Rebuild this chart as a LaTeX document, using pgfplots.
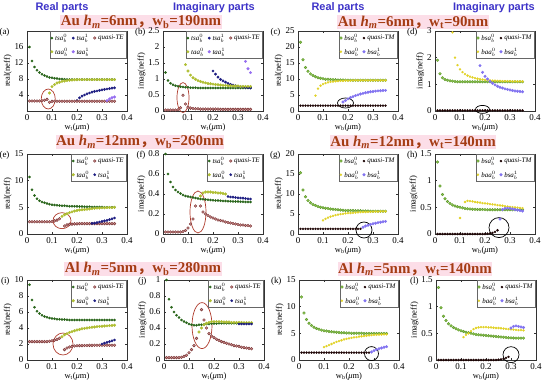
\documentclass[border=0pt]{standalone}
\usepackage{fontspec}
\setmainfont{Liberation Serif}
\setsansfont{Liberation Sans}
\newfontfamily\cjk{Noto Sans CJK SC}
\usepackage{pgfplots}
\pgfplotsset{compat=1.18}
\usepackage{pgfplotstable}

\definecolor{cS0}{RGB}{40,100,25}
\definecolor{cA0}{RGB}{175,190,50}
\definecolor{cS1}{RGB}{30,30,130}
\definecolor{cA1}{RGB}{150,110,240}
\definecolor{cTEd}{RGB}{120,50,50}
\definecolor{cTEf}{RGB}{200,140,140}
\definecolor{cB0d}{RGB}{90,150,40}
\definecolor{cB0f}{RGB}{135,190,75}
\definecolor{cBA0}{RGB}{225,210,40}
\definecolor{cTM}{RGB}{30,5,5}
\definecolor{cB1}{RGB}{130,115,240}
\definecolor{cHead}{RGB}{60,50,200}
\definecolor{cTitle}{RGB}{165,60,20}
\definecolor{cTitleBg}{RGB}{252,222,232}
\definecolor{cEll}{RGB}{175,60,45}

\pgfplotsset{
 panel/.style={scale only axis, width=100bp, height=80bp, anchor=north west,
  xmin=0, xmax=0.4, ymin=0, xtick={0,0.1,0.2,0.3,0.4},
  tick align=inside, major tick length=2bp, clip=false,
  axis line style={black!80}, every tick/.style={black!80},
  tick label style={font=\fontsize{9}{10}\selectfont},
  label style={font=\fontsize{8.5}{10}\selectfont},
  /pgf/number format/assume math mode=true,
  xlabel style={yshift=4bp}, ylabel style={yshift=-4bp},
  legend style={at={(0.995,0.995)}, anchor=north east, font=\fontsize{7}{8}\selectfont,
    draw=black!60, fill=white, inner sep=0.6pt, row sep=2pt, cells={anchor=west},
    /tikz/every even column/.append style={column sep=2pt}},
 },
 mS0/.style={only marks, mark=*, mark size=1.1bp, color=cS0},
 mA0/.style={only marks, mark=*, mark size=1.3bp, color=cA0},
 mS1/.style={only marks, mark=*, mark size=1.2bp, color=cS1},
 mA1/.style={only marks, mark=*, mark size=1.3bp, color=cA1},
 mTE/.style={only marks, mark=*, mark size=1.4bp, color=cTEd, mark options={draw=cTEd, fill=cTEf, line width=0.4bp}},
 mB0/.style={only marks, mark=*, mark size=1.4bp, color=cB0d, mark options={draw=cB0d, fill=cB0f, line width=0.3bp}},
 mBA0/.style={only marks, mark=*, mark size=1.0bp, color=cBA0},
 mTM/.style={only marks, mark=*, mark size=1.0bp, color=cTM},
 mB1/.style={only marks, mark=*, mark size=1.3bp, color=cB1},
}
\newcommand{\tsaZ}{\textit{tsa}$^{0}_{b}$}
\newcommand{\tsaO}{\textit{tsa}$^{1}_{b}$}
\newcommand{\taaZ}{\textit{taa}$^{0}_{b}$}
\newcommand{\taaO}{\textit{taa}$^{1}_{b}$}
\newcommand{\bsaZ}{\textit{bsa}$^{0}_{b}$}
\newcommand{\bsaO}{\textit{bsa}$^{1}_{b}$}
\newcommand{\baaZ}{\textit{baa}$^{0}_{b}$}
\newcommand{\xlt}{w\textsubscript{t}(\textit{μ}m)}
\newcommand{\xlb}{w\textsubscript{b}(\textit{μ}m)}

% (a)
\pgfplotstableread{
x s0 a0 s1 a1 q
0.01 16.0 nan nan nan 2.5
0.02 12.5 nan nan nan 2.5
0.03 11.0 nan nan nan 2.5
0.04 10.2 nan nan nan 2.5
0.05 9.6 nan nan nan 2.5
0.06 9.2 nan nan nan 2.55
0.07 8.9 nan nan nan 2.7
0.08 8.6 nan nan nan 2.9
0.09 8.4 4.5 nan nan 2.2
0.10 8.3 6.1 nan nan 2.4
0.11 8.2 6.6 nan nan 2.45
0.12 8.1 7.0 nan nan 2.45
0.13 8.0 7.2 nan nan 2.45
0.14 8.0 7.4 nan nan 2.45
0.15 7.95 7.5 nan nan 2.45
0.16 7.9 7.6 nan nan 2.45
0.17 7.9 7.7 nan nan 2.45
0.18 7.9 7.75 nan nan 2.45
0.19 7.9 7.8 nan nan 2.45
0.20 7.9 7.8 2.6 nan 2.45
0.21 7.9 7.85 3.3 nan 2.45
0.22 7.85 7.85 3.7 nan 2.45
0.23 7.85 7.85 4.0 nan 2.45
0.24 7.85 7.85 4.3 nan 2.45
0.25 7.85 7.85 4.5 nan 2.45
0.26 7.85 7.85 4.7 nan 2.45
0.27 7.85 7.85 4.9 nan 2.45
0.28 7.85 7.85 5.0 nan 2.45
0.29 7.85 7.85 5.15 nan 2.45
0.30 7.85 7.85 5.3 nan 2.45
0.31 7.85 7.85 5.4 nan 2.45
0.32 7.85 7.85 5.5 2.6 2.45
0.33 7.85 7.85 5.6 3.0 2.45
0.34 7.85 7.85 5.7 3.3 2.45
0.35 7.85 7.85 5.8 3.5 2.45
}\tA
% (b)
\pgfplotstableread{
x s0 a0 s1 a1 q
0.01 1.2 nan nan nan 0.03
0.02 0.95 nan nan nan 0.03
0.03 0.87 nan nan nan 0.03
0.04 0.82 nan nan nan 0.03
0.05 0.79 nan nan nan 0.03
0.06 0.77 nan nan nan 0.04
0.07 0.76 nan nan nan 0.1
0.08 0.75 nan nan nan 0.49
0.09 0.74 1.45 nan nan 0.22
0.10 0.74 1.25 nan nan 0.12
0.11 0.73 1.12 nan nan 0.09
0.12 0.73 1.04 nan nan 0.08
0.13 0.73 0.99 nan nan 0.07
0.14 0.72 0.95 nan nan 0.07
0.15 0.72 0.92 nan nan 0.06
0.16 0.72 0.90 nan nan 0.06
0.17 0.72 0.88 nan nan 0.06
0.18 0.72 0.86 nan nan 0.06
0.19 0.72 0.85 nan nan 0.06
0.20 0.72 0.84 1.25 nan 0.06
0.21 0.72 0.83 1.15 nan 0.06
0.22 0.72 0.82 1.06 nan 0.06
0.23 0.72 0.81 0.99 nan 0.05
0.24 0.72 0.80 0.94 nan 0.05
0.25 0.72 0.80 0.90 nan 0.05
0.26 0.72 0.79 0.86 nan 0.05
0.27 0.72 0.79 0.83 nan 0.05
0.28 0.72 0.78 0.81 nan 0.05
0.29 0.72 0.78 0.79 nan 0.05
0.30 0.72 0.78 0.77 nan 0.05
0.31 0.72 0.77 0.76 nan 0.05
0.32 0.72 0.77 0.75 nan 0.05
0.33 0.72 0.77 0.74 1.55 0.05
0.34 0.72 0.77 0.73 1.32 0.05
0.35 0.72 0.77 0.72 1.20 0.05
}\tB
% (c)
\pgfplotstableread{
x s0 a0 s1 q
0.01 21.5 nan nan 1.7
0.02 16.0 nan nan 1.7
0.03 13.6 nan nan 1.7
0.04 12.4 nan nan 1.7
0.05 11.6 nan nan 1.7
0.06 11.1 nan nan 1.7
0.07 10.7 4.8 nan 1.7
0.08 10.4 7.0 nan 1.7
0.09 10.2 7.9 nan 1.7
0.10 10.05 8.4 nan 1.7
0.11 9.95 8.7 nan 1.7
0.12 9.9 8.95 nan 1.7
0.13 9.85 9.1 nan 1.7
0.14 9.8 9.2 nan 1.7
0.15 9.75 9.3 nan 1.7
0.16 9.7 9.35 nan 1.7
0.17 9.7 9.4 nan 1.7
0.18 9.7 9.45 2.8 1.7
0.19 9.65 9.5 3.3 1.7
0.20 9.65 9.5 3.8 1.7
0.21 9.6 9.5 4.2 1.7
0.22 9.6 9.55 4.5 1.7
0.23 9.6 9.55 4.8 1.7
0.24 9.6 9.55 5.05 1.7
0.25 9.6 9.55 5.3 1.7
0.26 9.6 9.55 5.5 1.7
0.27 9.6 9.55 5.7 1.7
0.28 9.6 9.55 5.85 1.7
0.29 9.6 9.55 6.0 1.7
0.30 9.6 9.55 6.1 1.7
0.31 9.6 9.55 6.2 1.7
0.32 9.6 9.55 6.3 1.7
0.33 9.6 9.55 6.35 1.7
0.34 9.6 9.55 6.4 1.7
0.35 9.6 9.55 6.45 1.7
}\tC
% (d)
\pgfplotstableread{
x s0 a0 s1 q
0.01 1.9 nan nan 0.02
0.02 1.4 nan nan 0.02
0.03 1.25 nan nan 0.02
0.04 1.18 nan nan 0.02
0.05 1.15 nan nan 0.02
0.06 1.13 nan nan 0.02
0.07 1.12 2.95 nan 0.02
0.08 1.11 2.0 nan 0.02
0.09 1.1 1.72 nan 0.02
0.10 1.1 1.56 nan 0.02
0.11 1.1 1.46 nan 0.02
0.12 1.1 1.38 nan 0.02
0.13 1.1 1.33 nan 0.02
0.14 1.1 1.29 nan 0.02
0.15 1.1 1.26 nan 0.02
0.16 1.1 1.23 nan 0.02
0.17 1.1 1.21 nan 0.02
0.18 1.1 1.19 1.7 0.02
0.19 1.1 1.18 1.45 0.02
0.20 1.1 1.17 1.3 0.02
0.21 1.1 1.16 1.2 0.02
0.22 1.1 1.15 1.11 0.02
0.23 1.1 1.14 1.04 0.02
0.24 1.1 1.14 0.98 0.02
0.25 1.1 1.13 0.93 0.02
0.26 1.1 1.13 0.89 0.02
0.27 1.1 1.12 0.86 0.02
0.28 1.1 1.12 0.83 0.02
0.29 1.1 1.12 0.81 0.02
0.30 1.1 1.12 0.79 0.02
0.31 1.1 1.11 0.77 0.02
0.32 1.1 1.11 0.75 0.02
0.33 1.1 1.11 0.74 0.02
0.34 1.1 1.11 0.73 0.02
0.35 1.1 1.11 0.72 0.02
}\tD
% (e)
\pgfplotstableread{
x s0 a0 s1 q
0.01 10.7 nan nan 2.3
0.02 8.3 nan nan 2.3
0.03 7.2 nan nan 2.3
0.04 6.6 nan nan 2.3
0.05 6.25 nan nan 2.3
0.06 6.0 nan nan 2.3
0.07 5.85 nan nan 2.3
0.08 5.7 nan nan 2.3
0.09 5.6 nan nan 2.3
0.10 5.5 nan nan 2.35
0.11 5.45 nan nan 2.45
0.12 5.4 nan nan 2.6
0.13 5.35 nan nan 2.85
0.14 5.3 3.3 nan nan
0.15 5.28 3.6 nan 1.5
0.16 5.25 3.8 nan 1.7
0.17 5.22 4.0 nan 1.8
0.18 5.2 4.15 nan 1.85
0.19 5.2 4.3 nan 1.9
0.20 5.18 4.4 nan 1.9
0.21 5.15 4.5 nan 1.95
0.22 5.15 4.55 nan 1.95
0.23 5.12 4.6 nan 1.95
0.24 5.1 4.65 nan 1.95
0.25 5.1 4.7 nan 1.95
0.26 5.08 4.75 2.0 1.95
0.27 5.08 4.8 2.05 1.95
0.28 5.05 4.85 2.15 1.95
0.29 5.05 4.85 2.25 1.95
0.30 5.05 4.9 2.35 1.95
0.31 5.02 4.9 2.45 1.95
0.32 5.02 4.95 2.55 1.95
0.33 5.0 4.95 2.7 1.95
0.34 5.0 4.95 2.85 1.95
0.35 5.0 5.0 3.0 1.95
}\tE
% (f)
\pgfplotstableread{
x s0 a0 s1 q
0.01 0.8 nan nan 0.02
0.02 0.6 nan nan 0.02
0.03 0.52 nan nan 0.02
0.04 0.47 nan nan 0.02
0.05 0.44 nan nan 0.02
0.06 0.42 nan nan 0.02
0.07 0.405 nan nan 0.02
0.08 0.39 nan nan 0.025
0.09 0.38 nan nan 0.035
0.10 0.375 nan nan 0.06
0.11 0.37 nan nan 0.1
0.12 0.365 nan nan 0.15
0.13 0.36 nan nan 0.28
0.14 0.355 nan nan nan
0.15 0.35 0.38 nan 0.28
0.16 0.348 0.41 nan 0.22
0.17 0.345 0.42 nan 0.2
0.18 0.343 0.42 nan 0.185
0.19 0.34 0.42 nan 0.17
0.20 0.338 0.415 nan 0.16
0.21 0.336 0.415 nan 0.15
0.22 0.334 0.41 nan 0.14
0.23 0.332 0.41 nan 0.135
0.24 0.33 0.405 nan 0.13
0.25 0.33 0.4 nan 0.12
0.26 0.328 nan 0.375 0.115
0.27 0.327 nan 0.37 0.11
0.28 0.326 nan 0.368 0.105
0.29 0.325 nan 0.365 0.1
0.30 0.324 nan 0.362 0.095
0.31 0.323 nan 0.36 0.09
0.32 0.322 nan 0.358 0.09
0.33 0.321 nan 0.355 0.085
0.34 0.32 nan 0.352 0.085
0.35 0.32 nan 0.35 0.08
}\tF
% (g)
\pgfplotstableread{
x s0 a0 s1 q
0.01 15.3 nan nan 1.3
0.02 11.0 nan nan 1.3
0.03 9.3 nan nan 1.3
0.04 8.4 nan nan 1.3
0.05 7.8 nan nan 1.3
0.06 7.4 nan nan 1.3
0.07 7.1 nan nan 1.3
0.08 6.9 nan nan 1.3
0.09 6.7 nan nan 1.3
0.10 6.55 3.4 nan 1.3
0.11 6.45 3.8 nan 1.3
0.12 6.35 4.1 nan 1.3
0.13 6.25 4.35 nan 1.3
0.14 6.2 4.55 nan 1.3
0.15 6.1 4.7 nan 1.3
0.16 6.05 4.85 nan 1.3
0.17 6.0 4.95 nan 1.3
0.18 5.95 5.05 nan 1.3
0.19 5.9 5.15 nan 1.3
0.20 5.9 5.2 nan 1.3
0.21 5.85 5.25 nan 1.3
0.22 5.85 5.3 nan 1.3
0.23 5.8 5.35 nan 1.3
0.24 5.8 5.4 nan 1.3
0.25 5.8 5.45 nan 1.3
0.26 5.75 5.5 1.7 nan
0.27 5.75 5.5 2.0 nan
0.28 5.75 5.55 2.2 nan
0.29 5.7 5.55 2.4 nan
0.30 5.7 5.6 2.55 nan
0.31 5.7 5.6 2.7 nan
0.32 5.7 5.6 2.85 nan
0.33 5.7 5.65 2.95 nan
0.34 5.7 5.65 3.05 nan
0.35 5.7 5.65 3.15 nan
}\tG
% (h)
\pgfplotstableread{
x s0 a0 s1 q
0.01 1.35 nan nan 0
0.02 0.9 nan nan 0
0.03 0.74 nan nan 0
0.04 0.66 nan nan 0
0.05 0.61 nan nan 0
0.06 0.57 nan nan 0
0.07 0.545 nan nan 0
0.08 0.525 nan nan 0
0.09 0.51 nan nan 0
0.10 0.5 0.3 nan 0
0.11 0.49 nan nan 0
0.12 0.48 0.6 nan 0
0.13 0.475 0.62 nan 0
0.14 0.47 0.615 nan 0
0.15 0.465 0.61 nan 0
0.16 0.462 0.6 nan 0
0.17 0.46 0.595 nan 0
0.18 0.46 0.59 nan 0
0.19 0.458 0.58 nan 0
0.20 0.457 0.575 nan 0
0.21 0.456 0.57 nan 0.005
0.22 0.455 0.56 nan 0.01
0.23 0.455 0.555 nan 0.02
0.24 0.455 0.55 nan 0.04
0.25 0.455 0.54 nan 0.07
0.26 0.455 0.535 0.28 nan
0.27 0.455 0.53 0.46 nan
0.28 0.455 0.52 0.48 nan
0.29 0.455 0.515 0.485 nan
0.30 0.455 0.51 0.48 nan
0.31 0.455 0.505 0.47 nan
0.32 0.455 0.5 0.46 nan
0.33 0.455 0.495 0.45 nan
0.34 0.455 0.49 0.44 nan
0.35 0.455 0.485 0.43 nan
}\tH
% (i)
\pgfplotstableread{
x s0 a0 s1 q
0.01 9.4 nan nan 2.3
0.02 7.5 nan nan 2.3
0.03 6.6 nan nan 2.3
0.04 6.1 nan nan 2.3
0.05 5.8 nan nan 2.3
0.06 5.6 nan nan 2.3
0.07 5.45 nan nan 2.3
0.08 5.35 nan nan 2.3
0.09 5.25 nan nan 2.35
0.10 5.2 nan nan 2.4
0.11 5.15 nan nan 2.48
0.12 5.1 nan nan 2.58
0.13 5.08 nan nan 2.72
0.14 5.05 2.9 nan nan
0.15 5.05 3.15 nan 1.3
0.16 5.02 3.3 nan 1.5
0.17 5.0 3.45 nan 1.62
0.18 5.0 3.55 nan 1.7
0.19 5.0 3.65 nan 1.75
0.20 5.0 3.75 nan 1.78
0.21 5.0 3.82 nan 1.8
0.22 5.0 3.9 nan 1.8
0.23 5.0 3.95 nan 1.82
0.24 5.0 4.0 nan 1.82
0.25 5.0 4.05 nan 1.83
0.26 5.0 4.1 nan 1.83
0.27 5.0 4.13 nan 1.84
0.28 5.0 4.17 nan 1.84
0.29 5.0 4.2 nan 1.85
0.30 5.0 4.22 2.0 1.85
0.31 5.0 4.25 2.1 1.85
0.32 5.0 4.27 2.2 1.85
0.33 5.0 4.3 2.3 1.85
0.34 5.0 4.32 2.4 1.85
0.35 5.0 4.35 2.5 1.85
}\tI
% (j)
\pgfplotstableread{
x s0 a0 s1 q
0.01 1.0 nan nan 0.03
0.02 0.76 nan nan 0.03
0.03 0.66 nan nan 0.03
0.04 0.6 nan nan 0.03
0.05 0.56 nan nan 0.03
0.06 0.53 nan nan 0.03
0.07 0.5 nan nan 0.035
0.08 0.48 nan nan 0.045
0.09 0.465 nan nan 0.06
0.10 0.45 nan nan 0.09
0.11 0.44 nan nan 0.13
0.12 0.435 nan nan 0.18
0.13 0.435 nan nan 0.27
0.14 0.44 0.35 nan nan
0.15 0.44 0.4 nan 0.63
0.16 0.445 0.44 nan 0.5
0.17 0.45 0.46 nan 0.4
0.18 0.45 0.47 nan 0.33
0.19 0.455 0.48 nan 0.3
0.20 0.455 0.48 nan 0.28
0.21 0.455 0.48 nan 0.26
0.22 0.46 0.48 nan 0.245
0.23 0.46 0.48 nan 0.23
0.24 0.46 0.475 nan 0.22
0.25 0.46 0.475 nan 0.21
0.26 0.46 0.475 nan 0.2
0.27 0.46 0.47 nan 0.19
0.28 0.46 0.47 nan 0.18
0.29 0.46 0.47 nan 0.175
0.30 0.46 0.47 0.45 0.17
0.31 0.46 0.47 0.45 0.16
0.32 0.46 0.465 0.45 0.155
0.33 0.46 0.465 0.45 0.15
0.34 0.46 0.465 0.45 0.145
0.35 0.46 0.465 0.45 0.14
}\tJ
% (k)
\pgfplotstableread{
x s0 a0 s1 q
0.01 11.8 nan nan 1.4
0.02 8.8 nan nan 1.4
0.03 7.6 nan nan 1.4
0.04 6.9 nan nan 1.4
0.05 6.45 nan nan 1.4
0.06 6.15 nan nan 1.4
0.07 5.9 nan nan 1.4
0.08 5.75 nan nan 1.4
0.09 5.6 nan nan 1.4
0.10 5.5 2.4 nan 1.4
0.11 5.42 2.6 nan 1.4
0.12 5.35 2.8 nan 1.4
0.13 5.3 3.0 nan 1.4
0.14 5.25 3.2 nan 1.4
0.15 5.2 3.4 nan 1.4
0.16 5.15 3.55 nan 1.4
0.17 5.12 3.7 nan 1.4
0.18 5.1 3.85 nan 1.4
0.19 5.08 3.95 nan 1.4
0.20 5.05 4.05 nan 1.4
0.21 5.03 4.15 nan 1.4
0.22 5.02 4.25 nan 1.4
0.23 5.0 4.3 nan 1.4
0.24 5.0 4.4 nan 1.4
0.25 5.0 4.45 nan 1.4
0.26 4.98 4.5 nan 1.4
0.27 4.98 4.55 nan 1.4
0.28 4.97 4.6 nan 1.4
0.29 4.96 4.65 1.5 nan
0.30 4.96 4.7 1.75 nan
0.31 4.95 4.72 1.95 nan
0.32 4.95 4.75 2.1 nan
0.33 4.95 4.78 2.25 nan
0.34 4.95 4.8 2.4 nan
0.35 4.95 4.82 2.5 nan
}\tK
% (l)
\pgfplotstableread{
x s0 a0 s1 q
0.01 1.36 nan nan 0
0.02 0.98 nan nan 0
0.03 0.82 nan nan 0
0.04 0.74 nan nan 0
0.05 0.68 nan nan 0
0.06 0.64 nan nan 0
0.07 0.61 nan nan 0
0.08 0.585 nan nan 0
0.09 0.565 nan nan 0
0.10 0.55 nan nan 0
0.11 0.535 0.43 nan 0
0.12 0.52 0.47 nan 0
0.13 0.51 0.5 nan 0
0.14 0.5 0.54 nan 0
0.15 0.49 0.58 nan 0
0.16 0.48 0.6 nan 0
0.17 0.475 0.61 nan 0
0.18 0.47 0.615 nan 0
0.19 0.465 0.615 nan 0
0.20 0.46 0.615 nan 0
0.21 0.455 0.61 nan 0
0.22 0.45 0.61 nan 0
0.23 0.445 0.605 nan 0
0.24 0.44 0.6 nan 0
0.25 0.435 0.6 nan 0.005
0.26 0.43 0.595 nan 0.01
0.27 0.425 0.59 nan 0.02
0.28 0.42 0.585 nan 0.04
0.29 0.418 0.58 nan 0.06
0.30 0.415 0.575 0.6 nan
0.31 0.413 0.57 0.63 nan
0.32 0.41 0.565 0.64 nan
0.33 0.41 0.56 0.63 nan
0.34 0.41 0.56 0.62 nan
0.35 0.41 0.555 0.61 nan
}\tL

\newcommand{\TEthree}[1]{%
 \addplot[mS0] table[x=x,y=s0]{#1}; \addlegendentry{\tsaZ}
 \addplot[mS1] table[x=x,y=s1]{#1}; \addlegendentry{\tsaO}
 \addplot[mTE] table[x=x,y=q]{#1}; \addlegendentry{\textit{quasi-TE}}
 \addplot[mA0] table[x=x,y=a0]{#1}; \addlegendentry{\taaZ}
 \addplot[mA1] table[x=x,y=a1]{#1}; \addlegendentry{\taaO}}
\newcommand{\TEtwo}[1]{%
 \addplot[mS0] table[x=x,y=s0]{#1}; \addlegendentry{\tsaZ}
 \addplot[mTE] table[x=x,y=q]{#1}; \addlegendentry{\textit{quasi-TE}}
 \addplot[mA0] table[x=x,y=a0]{#1}; \addlegendentry{\taaZ}
 \addplot[mS1] table[x=x,y=s1]{#1}; \addlegendentry{\tsaO}}
\newcommand{\TMtwo}[1]{%
 \addplot[mB0] table[x=x,y=s0]{#1}; \addlegendentry{\bsaZ}
 \addplot[mTM] table[x=x,y=q]{#1}; \addlegendentry{\textit{quasi-TM}}
 \addplot[mBA0] table[x=x,y=a0]{#1}; \addlegendentry{\baaZ}
 \addplot[mB1] table[x=x,y=s1]{#1}; \addlegendentry{\bsaO}}
\newcommand{\plab}[1]{\node[anchor=east, font=\fontsize{9}{10}\selectfont] at (rel axis cs:0,1) [xshift=-14bp, yshift=-1bp] {#1};}
\tikzset{ttl/.style={font=\bfseries\fontsize{15}{16}\selectfont, text=cTitle, fill=cTitleBg, inner sep=0.5pt},
 hdr/.style={font=\sffamily\bfseries\fontsize{11}{12}\selectfont, text=cHead}}

\begin{document}
\begin{tikzpicture}
\useasboundingbox (0,0) rectangle (550bp,392bp);
\node[hdr] at (62bp,384bp) {Real parts};
\node[hdr] at (214bp,384bp) {Imaginary parts};
\node[hdr] at (338bp,384bp) {Real parts};
\node[hdr] at (494bp,384bp) {Imaginary parts};
\node[ttl] at (141bp,370bp) {Au \textit{h}\textsubscript{\textit{m}}=6nm{\cjk ，}w\textsubscript{b}=190nm};
\node[ttl] at (413bp,370bp) {Au \textit{h}\textsubscript{\textit{m}}=6nm{\cjk ，}w\textsubscript{t}=90nm};
\node[ttl] at (140bp,250bp) {Au \textit{h}\textsubscript{\textit{m}}=12nm{\cjk ，}w\textsubscript{b}=260nm};
\node[ttl] at (413bp,250bp) {Au \textit{h}\textsubscript{\textit{m}}=12nm{\cjk ，}w\textsubscript{t}=140nm};
\node[ttl] at (143bp,123bp) {Al \textit{h}\textsubscript{\textit{m}}=5nm{\cjk ，}w\textsubscript{b}=280nm};
\node[ttl] at (415bp,123bp) {Al \textit{h}\textsubscript{\textit{m}}=5nm{\cjk ，}w\textsubscript{t}=140nm};

% row 1
\begin{axis}[panel, at={(27bp,361bp)}, ymax=20, ytick={4,8,12,16}, ylabel={real(neff)}, xlabel={\xlt}, legend columns=3]
\TEthree{\tA}
\plab{(a)}
\draw[cEll, line width=0.7bp] (axis cs:0.085,3.0) ellipse [x radius=7bp, y radius=10bp];
\end{axis}
\begin{axis}[panel, at={(163bp,361bp)}, ymax=2.5, ytick={0,0.5,1,1.5,2,2.5}, ylabel={imag(neff)}, xlabel={\xlt}, legend columns=3]
\TEthree{\tB}
\plab{(b)}
\draw[cEll, line width=0.7bp] (axis cs:0.08,0.42) ellipse [x radius=6bp, y radius=15bp];
\end{axis}
\begin{axis}[panel, at={(298bp,361bp)}, ymax=25, ytick={0,5,10,15,20,25}, ylabel={real(neff)}, xlabel={\xlb}, legend columns=2]
\TMtwo{\tC}
\plab{(c)}
\draw[black, line width=0.7bp] (axis cs:0.19,2.5) ellipse [x radius=8bp, y radius=5bp];
\end{axis}
\begin{axis}[panel, at={(435bp,361bp)}, ymax=3, ytick={0,1,2,3}, ylabel={imag(neff)}, xlabel={\xlb}, legend columns=2]
\TMtwo{\tD}
\plab{(d)}
\draw[black, line width=0.7bp] (axis cs:0.19,0.06) ellipse [x radius=7bp, y radius=4bp];
\end{axis}

% row 2
\begin{axis}[panel, at={(27bp,238bp)}, ymax=15, ytick={0,5,10,15}, ylabel={real(neff)}, xlabel={\xlt}, legend columns=2]
\TEtwo{\tE}
\plab{(e)}
\draw[cEll, line width=0.7bp] (axis cs:0.14,2.5) ellipse [x radius=9bp, y radius=8bp];
\end{axis}
\begin{axis}[panel, at={(163bp,238bp)}, ymax=0.8, ytick={0,0.2,0.4,0.6,0.8}, ylabel={imag(neff)}, xlabel={\xlt}, legend columns=2]
\TEtwo{\tF}
\plab{(f)}
\draw[cEll, line width=0.7bp] (axis cs:0.14,0.22) ellipse [x radius=8bp, y radius=21bp];
\end{axis}
\begin{axis}[panel, at={(298bp,238bp)}, ymax=20, ytick={0,5,10,15,20}, ylabel={real(neff)}, xlabel={\xlb}, legend columns=2]
\TMtwo{\tG}
\plab{(g)}
\draw[black, line width=0.7bp] (axis cs:0.264,1.0) circle [radius=8bp];
\end{axis}
\begin{axis}[panel, at={(435bp,238bp)}, ymax=1.5, ytick={0,0.5,1,1.5}, ylabel={imag(neff)}, xlabel={\xlb}, legend columns=2]
\TMtwo{\tH}
\plab{(h)}
\draw[black, line width=0.7bp] (axis cs:0.256,0.12) circle [radius=10bp];
\end{axis}

% row 3
\begin{axis}[panel, at={(27bp,112bp)}, ymax=10, ytick={0,2,4,6,8,10}, ylabel={real(neff)}, xlabel={\xlt}, legend columns=2]
\TEtwo{\tI}
\plab{(i)}
\draw[cEll, line width=0.7bp] (axis cs:0.144,2.0) ellipse [x radius=10bp, y radius=11bp];
\end{axis}
\begin{axis}[panel, at={(164bp,112bp)}, ymax=1, ytick={0,0.2,0.4,0.6,0.8,1}, ylabel={imag(neff)}, xlabel={\xlt}, legend columns=2]
\TEtwo{\tJ}
\plab{(j)}
\draw[cEll, line width=0.7bp] (axis cs:0.152,0.43) ellipse [x radius=10bp, y radius=23bp];
\end{axis}
\begin{axis}[panel, at={(299bp,112bp)}, ymax=15, ytick={0,5,10,15}, ylabel={real(neff)}, xlabel={\xlb}, legend columns=2]
\TMtwo{\tK}
\plab{(k)}
\draw[black, line width=0.7bp] (axis cs:0.29,1.2) circle [radius=7bp];
\end{axis}
\begin{axis}[panel, at={(436bp,112bp)}, ymax=1.5, ytick={0,0.5,1,1.5}, ylabel={imag(neff)}, xlabel={\xlb}, legend columns=2]
\TMtwo{\tL}
\plab{(l)}
\draw[black, line width=0.7bp] (axis cs:0.30,0.1) circle [radius=8bp];
\end{axis}
\end{tikzpicture}
\end{document}
